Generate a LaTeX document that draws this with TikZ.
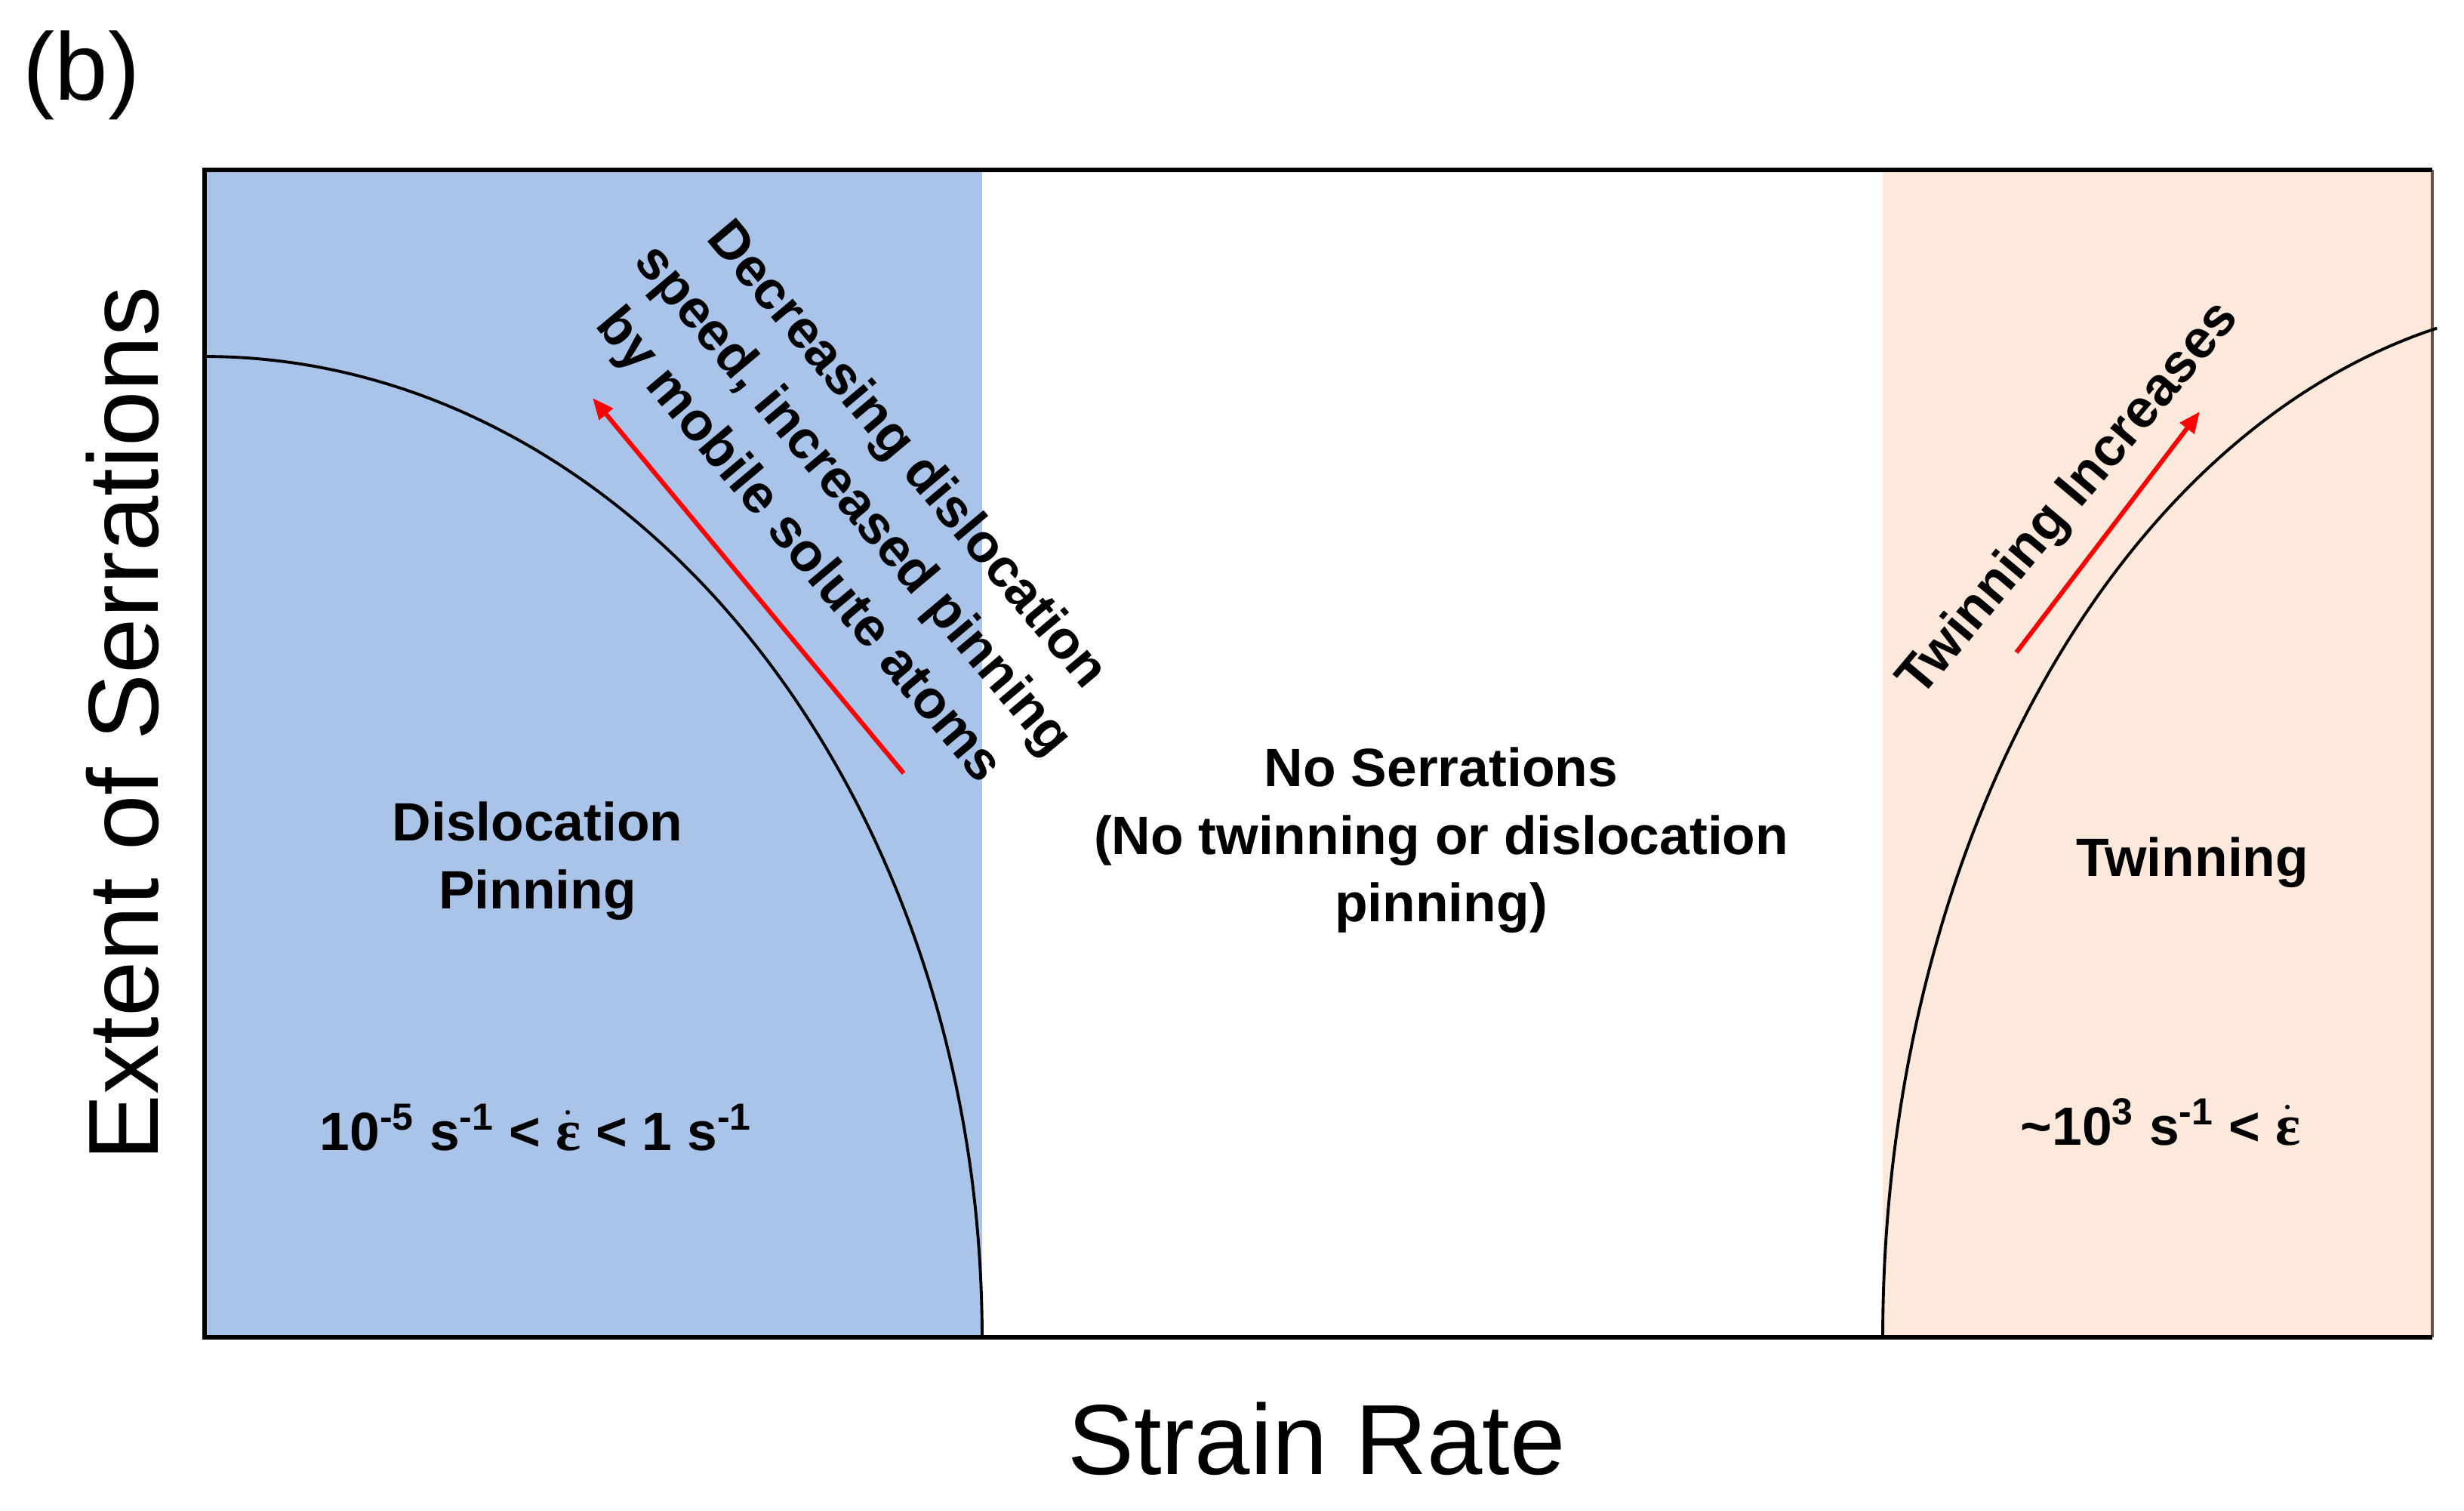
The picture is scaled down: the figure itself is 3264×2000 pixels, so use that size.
\documentclass[tikz,border=0pt]{standalone}
\usepackage{fontspec}
\setmainfont{Liberation Sans}
\newfontfamily\epsfont{Liberation Serif}
\usetikzlibrary{arrows.meta}
\definecolor{pinblue}{HTML}{A9C4E8}
\definecolor{twinpeach}{HTML}{FDE9DB}
\definecolor{edgebrown}{HTML}{6E5040}
\newcommand{\epsdot}{$\dot{\hbox{\epsfont\fontsize{22}{24}\selectfont ε}}$}
\begin{document}
\begin{tikzpicture}[x=0.01cm,y=-0.01cm,
  lbl/.style={font=\fontsize{20.3}{25.5}\selectfont\bfseries, align=center, inner sep=0},
  rotlbl/.style={font=\fontsize{20.3}{26.5}\selectfont\bfseries, align=center, inner sep=0},
  axislbl/.style={font=\fontsize{37.5}{45}\selectfont, inner sep=0},
  redarrow/.style={red, line width=1.7pt, -{Triangle[length=8pt,width=6.5pt]}},
  curve/.style={black, line width=1.1pt}]
\useasboundingbox (0,0) rectangle (3264,2000);
% regions
\fill[pinblue] (271,225) rectangle (1301,1771);
\fill[twinpeach] (2494,225) rectangle (3222,1771);
% frame
\draw[edgebrown, line width=1.1pt] (3222,225) -- (3222,1771);
\draw[black, line width=1.8pt] (3222,225) -- (271,225) -- (271,1771) -- (3222,1771);
% curves
\draw[curve] plot[domain=0:90, samples=80, smooth] ({271+1030*sin(\x)},{1771-1299*cos(\x)});
\draw[curve] plot[domain=0:77.3, samples=80, smooth] ({3435-941*cos(\x)},{1771-1370*sin(\x)});
% texts
\node[font=\fontsize{36}{40}\selectfont, inner sep=0] (panel) at (108,100) {(b)};
\node[axislbl, rotate=90] (ylab) at (162,958) {Extent of Serrations};
\node[axislbl] (xlab) at (1744,1905) {Strain Rate};
\node[lbl] (dp) at (712,1140) {Dislocation\\Pinning};
\node[lbl] (ns) at (1909,1113) {No Serrations\\(No twinning or dislocation\\pinning)};
\node[lbl] (tw) at (2904,1142) {Twinning};
\node[lbl] (lrate) at (710,1493) {10\textsuperscript{-5} s\textsuperscript{-1} < \epsdot{} < 1 s\textsuperscript{-1}};
\node[lbl] (rrate) at (2862,1486) {\textasciitilde10\textsuperscript{3} s\textsuperscript{-1} < \epsdot};
\node[rotlbl, rotate=-50] (dec) at (1128,664) {Decreasing dislocation\\speed, increased pinning\\by mobile solute atoms};
\node[rotlbl, rotate=50] (ti) at (2742,662) {Twinning Increases};
% arrows
\coordinate (la1) at (1197,1024);
\coordinate (la2) at (785,527);
\draw[redarrow] (la1) -- (la2);
\coordinate (ra1) at (2671,864);
\coordinate (ra2) at (2914,545);
\draw[redarrow] (ra1) -- (ra2);
\end{tikzpicture}
\end{document}
